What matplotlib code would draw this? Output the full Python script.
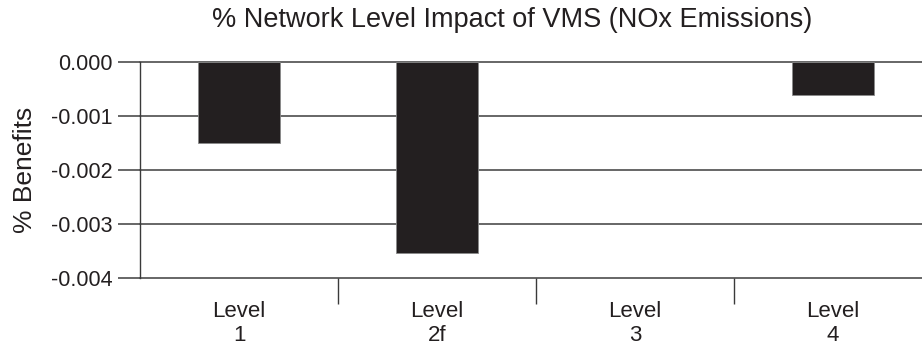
import matplotlib
matplotlib.use('Agg')
import matplotlib.pyplot as plt
import numpy as np

plt.rcParams['font.family'] = ['Liberation Sans', 'DejaVu Sans']

levels = ['Level\n1', 'Level\n2f', 'Level\n3', 'Level\n4']
benefits = [-0.0015, -0.00354, 0.0, -0.00061]
yticks = [0.0, -0.001, -0.002, -0.003, -0.004]

ink = '#231f20'
grid_col = '#5a5a5a'

fig = plt.figure(figsize=(9.22, 3.48), dpi=100)
ax = fig.add_axes([140/922, 1 - 277.7/348, 782/922, (277.7-62)/348])

x = np.arange(len(levels))
# no outline on empty bars so the zero rule stays clean
edge_w = [0.6 if v != 0 else 0 for v in benefits]
ax.bar(x, benefits, width=0.41, color=ink, edgecolor='#8a8a8a',
       linewidth=edge_w, zorder=3)

ax.set_xlim(-0.5, 782/198 - 0.5)
ax.set_ylim(-0.004, 0.0)
ax.set_yticks(yticks)
ax.set_yticklabels(['%.3f' % v for v in yticks])

# horizontal rules, the bottom one doubles as the x axis
for v in yticks:
    ax.axhline(v, color=grid_col, lw=1.3, zorder=1, clip_on=False)

for s in ['top', 'right', 'bottom']:
    ax.spines[s].set_visible(False)
ax.spines['left'].set_color('#3a3a3a')
ax.spines['left'].set_linewidth(1.0)

ax.tick_params(axis='y', direction='out', length=16, width=1.3,
               color=grid_col, pad=3.5, labelsize=15.5, labelcolor=ink)

# category names centred, separators between categories
ax.set_xticks(x)
ax.set_xticklabels(levels, fontsize=16, color=ink, linespacing=1.15)
ax.tick_params(axis='x', which='major', length=0, pad=17)
ax.set_xticks(x[:-1] + 0.5, minor=True)
ax.tick_params(axis='x', which='minor', direction='out', length=19,
               width=1.0, color='#3a3a3a')

ax.set_ylabel('% Benefits', fontsize=19, color=ink, labelpad=10)
fig.text(512.5/922, 1 - 20/348, '% Network Level Impact of VMS (NOx Emissions)',
         ha='center', va='center', fontsize=19.5, color=ink)

fig.savefig('out.png', dpi=100)
